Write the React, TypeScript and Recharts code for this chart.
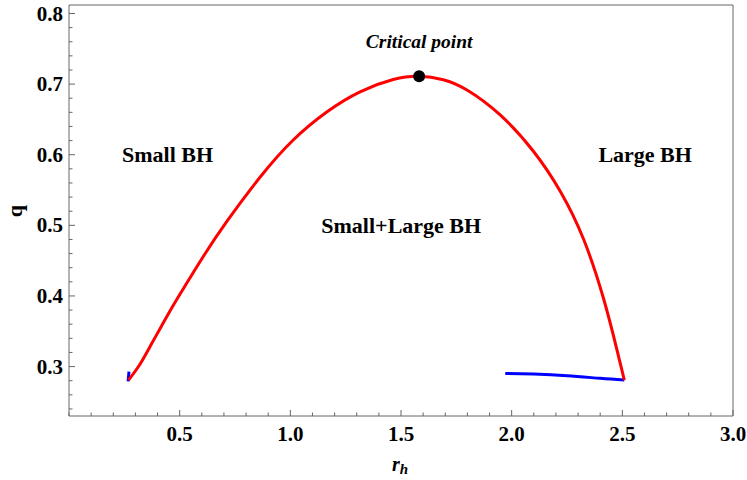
import React from "react";
import { ComposedChart, Line, Scatter, XAxis, YAxis, ReferenceDot } from "recharts";

// coexistence curve (red) and the two short blue branches
const redRh = [0.269, 0.32, 0.37, 0.42, 0.47, 0.52, 0.606, 0.714, 0.863, 1.012, 1.166, 1.315, 1.465, 1.582, 1.691, 1.798, 1.948, 2.099, 2.22, 2.325, 2.416, 2.476, 2.509];
const redQ = [0.281, 0.303, 0.3305, 0.3585, 0.386, 0.412, 0.4556, 0.5059, 0.5681, 0.6205, 0.6608, 0.6891, 0.7064, 0.711, 0.7061, 0.6916, 0.6563, 0.6045, 0.5479, 0.4802, 0.3953, 0.3233, 0.2809];

const blueLeftRh = [0.267, 0.271];
const blueLeftQ = [0.279, 0.293];

const blueRightRh = [1.971, 2.1, 2.25, 2.4, 2.509];
const blueRightQ = [0.2903, 0.2893, 0.287, 0.2833, 0.2809];

const criticalRh = [1.582];
const criticalQ = [0.711];

const xTicks = [0, 0.1, 0.2, 0.3, 0.4, 0.5, 0.6, 0.7, 0.8, 0.9, 1.0, 1.1, 1.2, 1.3, 1.4, 1.5, 1.6, 1.7, 1.8, 1.9, 2.0, 2.1, 2.2, 2.3, 2.4, 2.5, 2.6, 2.7, 2.8, 2.9, 3.0];
const yTicks = [0.24, 0.26, 0.28, 0.3, 0.32, 0.34, 0.36, 0.38, 0.4, 0.42, 0.44, 0.46, 0.48, 0.5, 0.52, 0.54, 0.56, 0.58, 0.6, 0.62, 0.64, 0.66, 0.68, 0.7, 0.72, 0.74, 0.76, 0.78, 0.8];

const annotations = [
  { text: "Critical point", rh: 1.582, q: 0.761, italic: true },
  { text: "Small BH", rh: 0.445, q: 0.6, italic: false },
  { text: "Large BH", rh: 2.603, q: 0.601, italic: false },
  { text: "Small+Large BH", rh: 1.501, q: 0.5, italic: false },
];

const zip = (xs: number[], ys: number[]) => xs.map((x, i) => ({ rh: x, q: ys[i] }));

const red = zip(redRh, redQ);
const blueLeft = zip(blueLeftRh, blueLeftQ);
const blueRight = zip(blueRightRh, blueRightQ);
const critical = zip(criticalRh, criticalQ);

const FONT = "'Liberation Serif', 'Times New Roman', 'DejaVu Serif', serif";
const GRAY = "#666";
const txt = { fontFamily: FONT, fontWeight: 700 } as const;

const isMajorX = (v: number) => Math.abs(v * 2 - Math.round(v * 2)) < 1e-6 && v > 0;
const isMajorY = (v: number) => Math.abs(v * 10 - Math.round(v * 10)) < 1e-6;

function BottomTick({ x, y, payload }: any) {
  const major = isMajorX(payload.value);
  return (
    <g>
      <line x1={x} x2={x} y1={y} y2={y - (major ? 6 : 3.5)} stroke={GRAY} />
      {major && (
        <text x={x} y={y + 25} textAnchor="middle" style={{ ...txt, fontSize: 21 }} fill="#000">
          {payload.value.toFixed(1)}
        </text>
      )}
    </g>
  );
}

function TopTick({ x, y, payload }: any) {
  const major = isMajorX(payload.value);
  return <line x1={x} x2={x} y1={y} y2={y + (major ? 6 : 3.5)} stroke={GRAY} />;
}

function LeftTick({ x, y, payload }: any) {
  const major = isMajorY(payload.value);
  return (
    <g>
      <line x1={x} x2={x + (major ? 6 : 3.5)} y1={y} y2={y} stroke={GRAY} />
      {major && (
        <text x={x - 6} y={y} dy="0.34em" textAnchor="end" style={{ ...txt, fontSize: 21 }} fill="#000">
          {payload.value.toFixed(1)}
        </text>
      )}
    </g>
  );
}

function RightTick({ x, y, payload }: any) {
  const major = isMajorY(payload.value);
  return <line x1={x} x2={x - (major ? 6 : 3.5)} y1={y} y2={y} stroke={GRAY} />;
}

export default function App() {
  return (
    <div style={{ width: 747, height: 480, background: "#fff" }}>
      <style>{"body{margin:0}"}</style>
      <ComposedChart width={747} height={480} margin={{ top: 0, right: 0, bottom: 0, left: 0 }}>
        <XAxis
          dataKey="rh"
          type="number"
          domain={[0, 3]}
          ticks={xTicks}
          interval={0}
          height={64}
          tickSize={0}
          tickMargin={0}
          tickLine={false}
          tick={<BottomTick />}
          axisLine={{ stroke: GRAY }}
          label={{
            content: () => (
              <text x={400} y={471} textAnchor="middle" style={{ ...txt, fontStyle: "italic", fontSize: 20 }} fill="#000">
                r<tspan style={{ fontSize: 15 }} dy={3}>h</tspan>
              </text>
            ),
          }}
        />
        <XAxis
          xAxisId="top"
          orientation="top"
          type="number"
          domain={[0, 3]}
          ticks={xTicks}
          interval={0}
          height={5}
          tickSize={0}
          tickMargin={0}
          tickLine={false}
          tick={<TopTick />}
          axisLine={{ stroke: GRAY }}
        />
        <YAxis
          dataKey="q"
          type="number"
          domain={[0.23, 0.812]}
          ticks={yTicks}
          interval={0}
          width={69}
          tickSize={0}
          tickMargin={0}
          tickLine={false}
          tick={<LeftTick />}
          axisLine={{ stroke: GRAY }}
          label={{
            content: () => (
              <text x={22} y={211} transform="rotate(-90 22 211)" textAnchor="middle" style={{ ...txt, fontSize: 22 }} fill="#000">
                q
              </text>
            ),
          }}
        />
        <YAxis
          yAxisId="right"
          orientation="right"
          type="number"
          domain={[0.23, 0.812]}
          ticks={yTicks}
          interval={0}
          width={14}
          tickSize={0}
          tickMargin={0}
          tickLine={false}
          tick={<RightTick />}
          axisLine={{ stroke: GRAY }}
        />
        <Line data={blueLeft} dataKey="q" type="linear" stroke="#0000ff" strokeWidth={3} dot={false} activeDot={false} isAnimationActive={false} />
        <Line data={blueRight} dataKey="q" type="natural" stroke="#0000ff" strokeWidth={3} dot={false} activeDot={false} isAnimationActive={false} />
        <Line data={red} dataKey="q" type="natural" stroke="#ff0000" strokeWidth={3} dot={false} activeDot={false} isAnimationActive={false} />
        <Scatter
          data={critical}
          dataKey="q"
          fill="#000"
          isAnimationActive={false}
          shape={(p: any) => <circle cx={p.cx} cy={p.cy} r={6} fill="#000" />}
        />
        {annotations.map((a) => (
          <ReferenceDot
            key={a.text}
            x={a.rh}
            y={a.q}
            r={0}
            stroke="none"
            fill="none"
            label={{
              content: (props: any) => {
                const vb = props.viewBox || {};
                return (
                  <text
                    x={vb.x + (vb.width || 0) / 2}
                    y={vb.y + (vb.height || 0) / 2}
                    dy="0.35em"
                    textAnchor="middle"
                    style={{ ...txt, fontStyle: a.italic ? "italic" : "normal", fontSize: a.italic ? 19.5 : 22 }}
                    fill="#000"
                  >
                    {a.text}
                  </text>
                );
              },
            }}
          />
        ))}
      </ComposedChart>
    </div>
  );
}
